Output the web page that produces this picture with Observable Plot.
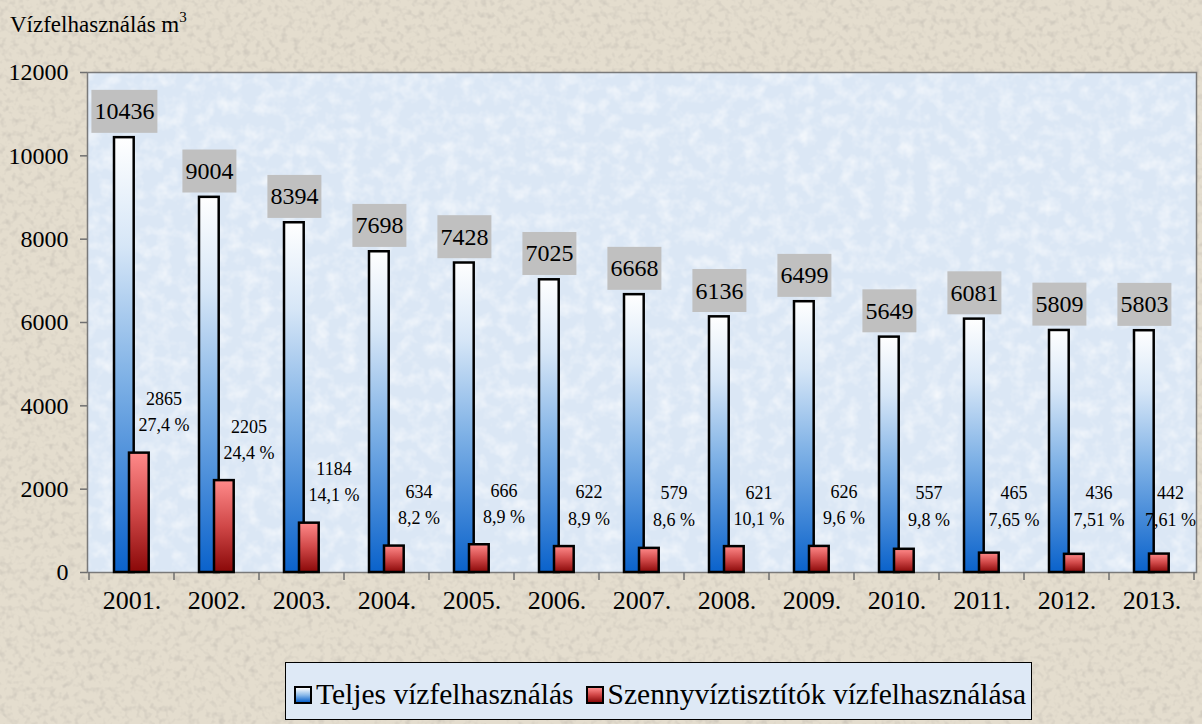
<!DOCTYPE html>
<html>
<head>
<meta charset="utf-8">
<script src="https://cdn.jsdelivr.net/npm/d3@7"></script>
<script src="https://cdn.jsdelivr.net/npm/@observablehq/plot@0.6"></script>
<style>
  body { margin: 0; }
  #wrap { position: relative; width: 1202px; height: 724px; overflow: hidden;
          background: #e4ddce; font-family: "Liberation Serif", "Times New Roman", serif; color: #000; }
  #bgtex { position: absolute; left: 0; top: 0; }
  #title { position: absolute; left: 10px; top: 13px; font-size: 23px; line-height: 23px; white-space: nowrap; }
  #title sup { font-size: 15px; vertical-align: 10px; line-height: 0; }
  #chart { position: absolute; left: 0; top: 0; }
  #legend { position: absolute; left: 285px; top: 662px; width: 747px; height: 58px; box-sizing: border-box;
            border: 1.5px solid #000; background: #dee9f6; padding: 17px 0 0 8px;
            font-size: 29.5px; line-height: 29.5px; white-space: nowrap; }
  .sw { display: inline-block; width: 14px; height: 14px; border: 2.5px solid #000; margin-right: 4px; vertical-align: baseline; }
  .sw.blue { background: linear-gradient(to bottom, #ffffff, #8dbbea 50%, #0a62cb); }
  .sw.red { background: linear-gradient(to bottom, #ff8c8c, #d04545 50%, #8a0a0a); margin-left: 12px; }
</style>
</head>
<body>
<div id="wrap">
  <svg id="bgtex" width="1202" height="724">
    <filter id="speck" x="0" y="0" width="100%" height="100%">
      <feTurbulence type="fractalNoise" baseFrequency="0.16" numOctaves="2" seed="7"/>
      <feColorMatrix type="matrix" values="0 0 0 0 0.45  0 0 0 0 0.42  0 0 0 0 0.38  1.0 0 0 0 -0.47"/>
    </filter>
    <rect width="1202" height="724" filter="url(#speck)"/>
  </svg>
  <div id="chart"></div>
  <div id="title">Vízfelhasználás m<sup>3</sup></div>
  <div id="legend"><span class="sw blue"></span>Teljes vízfelhasználás<span class="sw red"></span>Szennyvíztisztítók vízfelhasználása</div>
</div>
<script>
const years = ["2001.", "2002.", "2003.", "2004.", "2005.", "2006.", "2007.", "2008.", "2009.", "2010.", "2011.", "2012.", "2013."];
const totalUse = [10436, 9004, 8394, 7698, 7428, 7025, 6668, 6136, 6499, 5649, 6081, 5809, 5803];
const plantUse = [2865, 2205, 1184, 634, 666, 622, 579, 621, 626, 557, 465, 436, 442];
const plantShare = ["27,4 %", "24,4 %", "14,1 %", "8,2 %", "8,9 %", "8,9 %", "8,6 %", "10,1 %", "9,6 %", "9,8 %", "7,65 %", "7,51 %", "7,61 %"];
const yTicks = [0, 2000, 4000, 6000, 8000, 10000, 12000];

const data = years.map((year, i) => ({year, total: totalUse[i], plant: plantUse[i], share: plantShare[i]}));
const lastYear = years[years.length - 1];

const defs = () => {
  const d = d3.create("svg:defs");
  const b = d.append("linearGradient").attr("id", "gBlue").attr("x1", 0).attr("y1", 0).attr("x2", 0).attr("y2", 1);
  [["0%", "#ffffff"], ["25%", "#d6e6f7"], ["55%", "#80b2e6"], ["100%", "#0a62cb"]]
    .forEach(([o, c]) => b.append("stop").attr("offset", o).attr("stop-color", c));
  const r = d.append("linearGradient").attr("id", "gRed").attr("x1", 0).attr("y1", 0).attr("x2", 0).attr("y2", 1);
  [["0%", "#ff8a8a"], ["50%", "#d04848"], ["100%", "#8a0808"]]
    .forEach(([o, c]) => r.append("stop").attr("offset", o).attr("stop-color", c));
  const f = d.append("filter").attr("id", "marble").attr("x", 0).attr("y", 0).attr("width", "100%").attr("height", "100%");
  f.append("feTurbulence").attr("type", "fractalNoise").attr("baseFrequency", 0.07).attr("numOctaves", 3).attr("seed", 11);
  f.append("feColorMatrix").attr("type", "matrix")
    .attr("values", "0 0 0 0 1  0 0 0 0 1  0 0 0 0 1  1.2 0 0 0 -0.5");
  return d.node();
};

// plot-area texture, sized from the plot's own dimensions
const areaTexture = (index, scales, values, dims) => {
  const g = d3.create("svg:g");
  g.append("rect")
    .attr("x", dims.marginLeft).attr("y", dims.marginTop)
    .attr("width", dims.width - dims.marginLeft - dims.marginRight)
    .attr("height", dims.height - dims.marginTop - dims.marginBottom)
    .attr("filter", "url(#marble)");
  return g.node();
};

const xTicks = (index, scales, values, dims) => {
  const x = scales.x;
  const bw = x.bandwidth ? x.bandwidth() : (dims.width - dims.marginLeft - dims.marginRight) / years.length;
  const y0 = dims.height - dims.marginBottom;
  const xs = years.map(y => x(y)).concat([x(lastYear) + bw]);
  const g = d3.create("svg:g").attr("stroke", "#6f6f6f").attr("stroke-width", 1.5);
  g.selectAll("line").data(xs).join("line")
    .attr("x1", d => d).attr("x2", d => d).attr("y1", y0).attr("y2", y0 + 8);
  return g.node();
};

const plot = Plot.plot({
  width: 1202,
  height: 650,
  marginLeft: 87,
  marginRight: 6,
  marginTop: 72,
  marginBottom: 78,
  style: {background: "transparent", fontFamily: "'Liberation Serif', 'Times New Roman', serif", color: "#000", overflow: "visible"},
  x: {domain: years, padding: 0, label: null},
  y: {domain: [0, 12000], label: null},
  marks: [
    defs,
    Plot.frame({fill: "#dbe7f5", stroke: "none"}),
    areaTexture,
    Plot.frame({stroke: "#7a7a7a", strokeWidth: 1.5}),
    Plot.barY(data, {x: "year", y: "total", fill: "url(#gBlue)", stroke: "#000", strokeWidth: 2.5, insetLeft: 25, insetRight: 40.3}),
    Plot.barY(data, {x: "year", y: "plant", fill: "url(#gRed)", stroke: "#000", strokeWidth: 2.5, insetLeft: 40, insetRight: 25.3}),
    Plot.text(data, {x: "year", y: "total", text: d => String(d.total), dx: -7.6, dy: -26, fontSize: 24, fill: "#000", className: "boxed"}),
    Plot.text(data.filter(d => d.year !== lastYear), {x: "year", y: d => Math.max(d.plant, 600), text: d => d.plant + "\n" + d.share,
      lineAnchor: "bottom", lineHeight: 1.45, dx: 32, dy: -22, fontSize: 18, fill: "#000"}),
    Plot.text(data.filter(d => d.year === lastYear), {x: "year", y: d => Math.max(d.plant, 600), text: d => d.plant + "\n" + d.share,
      lineAnchor: "bottom", lineHeight: 1.45, dx: 18.5, dy: -22, fontSize: 18, fill: "#000"}),
    Plot.axisY({ticks: yTicks, tickFormat: d => String(d), tickSize: 7, tickPadding: 12, fontSize: 24, stroke: "#6f6f6f", strokeWidth: 1.5, label: null}),
    Plot.axisX({tickSize: 0, tickPadding: 18, fontSize: 26, label: null}),
    xTicks
  ]
});

document.getElementById("chart").appendChild(plot);

// grey label boxes behind the total values
plot.querySelectorAll("g.boxed text").forEach(t => {
  const bb = t.getBBox();
  const r = document.createElementNS("http://www.w3.org/2000/svg", "rect");
  r.setAttribute("x", bb.x - 3);
  r.setAttribute("y", bb.y - 8.5);
  r.setAttribute("width", bb.width + 6);
  r.setAttribute("height", bb.height + 17);
  r.setAttribute("fill", "#c0c0c0");
  if (t.getAttribute("transform")) r.setAttribute("transform", t.getAttribute("transform"));
  t.parentNode.insertBefore(r, t);
});
</script>
</body>
</html>
